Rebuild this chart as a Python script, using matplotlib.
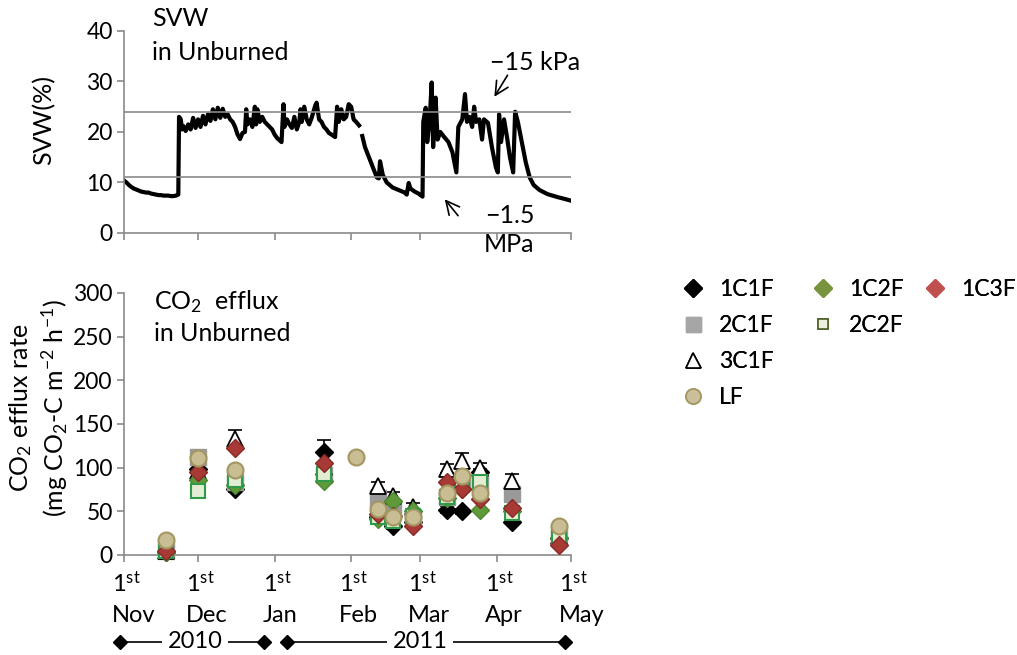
import numpy as np
import matplotlib
matplotlib.use("Agg")
import matplotlib.pyplot as plt
from matplotlib.lines import Line2D
from matplotlib.transforms import ScaledTranslation

plt.rcParams["font.family"] = ["Lato", "DejaVu Sans"]
plt.rcParams["mathtext.fontset"] = "custom"
plt.rcParams["mathtext.rm"] = "Lato"
plt.rcParams["mathtext.it"] = "Lato:italic"
plt.rcParams["mathtext.bf"] = "Lato:bold"

FS = 18        # panel titles / axis titles
FS_TICK = 16.5
FS_LEG = 16.5
AXIS_GREY = "#8a8a8a"

# month boundaries, days since 1 Nov 2010
month_days = [0, 30, 61, 92, 120, 151, 181]
month_names = ["Nov", "Dec", "Jan", "Feb", "Mar", "Apr", "May"]

# soil volumetric water (%), logger trace (NaN = logger gap)
svw_day = [
    0, 1, 2, 3, 4, 5, 6, 7, 8, 9, 10, 11, 12, 13, 14, 15, 16, 17, 18, 19, 20, 21, 22,
    22.3, 23, 23.5, 24, 25, 26, 27, 28, 29, 30, 31, 32, 33, 34, 35, 36, 37, 38, 39,
    40, 41, 42, 43, 44, 45, 46, 47, 48, 49, 49.5, 50, 51, 52, 53, 53.5, 54, 55, 56,
    57, 58, 59, 60, 61, 62, 63.8, 64.6, 65, 66, 67, 68, 69, 70, 71, 71.5, 72, 73,
    74, 75, 76, 77.5, 78, 79, 80, 81, 82, 83, 84, 85.5, 86.3, 87, 88, 89, 90, 91,
    92, 93, 94, 95.2, 95.8,
    96.5, 97.6, 99.2, 100.8, 102.4, 103.2, 103.7, 104.8, 106.4, 108.8, 111.3, 113.7,
    114.5, 115.3, 116, 117.7, 119.3, 120.9, 121.2, 122.2, 122.8, 123.8, 124.6, 125.2,
    126.2, 127, 128.1, 129.7, 131.4, 133, 134.6, 135.4, 137, 138.1, 138.9, 139.9,
    141, 141.8, 142.6, 143.9, 145, 145.8, 147.4, 149, 150.6, 151.4, 151.9, 152.7,
    153.9, 155.1, 156.3, 157.6, 158.4, 159.5, 161.1, 162.7, 164.3, 165.9, 168.3,
    171.5, 175.6, 178.8, 181,
]
svw_val = [
    10.4, 10.0, 9.5, 9.1, 8.8, 8.6, 8.4, 8.2, 8.1, 8.0, 8.0, 7.8, 7.7, 7.6, 7.5, 7.5,
    7.4, 7.4, 7.4, 7.3, 7.3, 7.4, 7.6,
    23.0, 22.5, 20.5, 21.2, 20.2, 21.5, 20.5, 22.8, 20.8, 22.5, 21.0, 23.2, 21.5, 23.5,
    22.2, 24.5, 22.5, 24.8, 22.8, 24.6, 23.0, 23.5, 22.5, 22.0, 21.0, 19.5, 18.6, 19.8,
    20.0, 24.5, 21.5, 22.5, 21.0, 25.0, 21.5, 24.5, 22.0, 23.0, 22.0, 21.5, 21.0, 20.5,
    19.5, 18.8, 18.0, 25.5, 21.0, 22.5, 21.5, 20.8, 23.0, 20.5, 22.0, 24.5, 22.0, 25.0,
    22.5, 21.5, 22.8, 25.3, 25.8, 22.5, 22.0, 21.0, 20.5, 19.8, 19.5, 19.0, 25.0, 22.0,
    24.5, 22.5, 23.0, 25.5, 25.0, 22.5, 22.0, 21.3, np.nan,
    19.2, 17.0, 15.0, 13.0, 11.0, 10.8, 14.2, 11.5, 10.0, 9.0, 8.5, 8.0, 7.6, 9.9, 8.8,
    8.2, 7.8, 7.2, 22.0, 24.8, 18.0, 22.5, 29.8, 17.0, 26.8, 18.5, 20.0, 19.0, 18.0,
    16.0, 12.0, 21.0, 22.5, 27.5, 22.0, 23.0, 21.0, 25.0, 22.0, 22.5, 18.5, 22.5, 21.8,
    17.0, 13.0, 12.0, 23.5, 18.0, 22.5, 19.0, 15.0, 12.0, 24.0, 22.0, 18.0, 14.0, 11.0,
    9.5, 8.5, 7.7, 7.1, 6.7, 6.4,
]
svw_fc = 24.0   # -15 kPa
svw_wp = 11.1   # -1.5 MPa

# CO2 efflux (mg CO2-C m-2 h-1) on the chamber sampling days
samp_day = [17, 30, 45, 81, 103, 109, 117, 131, 137, 144, 157, 176]
c1c1f = [3, 98, 76, 118, 44, 33, 38, 52, 50, 95, 38, 20]
c2c1f = [5, 112, 83, 92, 65, 53, 41, 66, 84, 82, 70, 24]
c3c1f = [4, 96, 133, 101, 79, 67, 55, 99, 108, 100, 85, 22]
c3c1f_err = [2, 4, 10, 5, 5, 5, 4, 5, 9, 5, 8, 3]
c1c1f_err = [2, 5, 4, 14, 4, 3, 3, 4, 3, 4, 3, 2]
c1c2f = [3, 86, 80, 85, 41, 62, 50, 65, 75, 52, 50, 20]
c2c2f = [4, 73, 86, 93, 44, 39, 45, 66, 80, 84, 48, 20]
c1c3f = [4, 95, 123, 105, 47, 45, 33, 83, 76, 64, 54, 12]
lf_day = [17, 30, 45, 94, 103, 109, 117, 131, 137, 144, 176]
lf = [17, 111, 97, 112, 53, 43, 44, 71, 91, 71, 33]

fig = plt.figure(figsize=(10.17, 6.55), dpi=100)
ax1 = fig.add_axes([0.1219, 0.6443, 0.4395, 0.3084])
ax2 = fig.add_axes([0.1219, 0.1527, 0.4395, 0.4000])


def style_axis(ax):
    for s in ("top", "right"):
        ax.spines[s].set_visible(False)
    for s in ("left", "bottom"):
        ax.spines[s].set_color(AXIS_GREY)
        ax.spines[s].set_linewidth(1.2)
    ax.tick_params(axis="both", colors=AXIS_GREY, length=5, width=1.2, pad=3,
                   labelcolor="black", labelsize=FS_TICK)
    ax.set_xlim(0, 181)
    ax.set_xticks(month_days)


# top: soil water
style_axis(ax1)
ax1.plot(svw_day, svw_val, color="black", lw=3.0)
ax1.axhline(svw_fc, color=AXIS_GREY, lw=1.2)
ax1.axhline(svw_wp, color=AXIS_GREY, lw=1.2)
ax1.set_ylim(0, 40)
ax1.set_yticks([0, 10, 20, 30, 40])
ax1.set_xticklabels([])
ax1.set_ylabel("SVW(%)", fontsize=FS, va="center")
ax1.yaxis.set_label_coords(-0.179, 0.56)
ax1.text(0.063, 1.064, "SVW", transform=ax1.transAxes, fontsize=FS,
         va="center", ha="left", clip_on=False)
ax1.text(0.063, 0.891, "in Unburned", transform=ax1.transAxes, fontsize=FS,
         va="center", ha="left")
ax1.text(0.819, 0.842, "\u221215 kPa", transform=ax1.transAxes, fontsize=FS,
         va="center", ha="left", clip_on=False)
ax1.text(0.864, 0.089, "\u22121.5", transform=ax1.transAxes, fontsize=FS,
         va="center", ha="center")
ax1.text(0.861, -0.059, "MPa", transform=ax1.transAxes, fontsize=FS,
         va="center", ha="center", clip_on=False)
arrow = dict(arrowstyle="->", color="black", lw=1.2, mutation_scale=24)
ax1.annotate("", xy=(149.4, 26.5), xytext=(155.9, 31.7), arrowprops=arrow)
ax1.annotate("", xy=(129.2, 7.1), xytext=(136.0, 3.0), arrowprops=arrow)

# bottom: CO2 efflux
style_axis(ax2)
ax2.set_ylim(0, 300)
ax2.set_yticks(range(0, 301, 50))
ax2.errorbar(samp_day, c1c1f, yerr=c1c1f_err, fmt="none", ecolor="black",
             elinewidth=1.2, capsize=5, capthick=1.2, zorder=2)
ax2.errorbar(samp_day, c3c1f, yerr=c3c1f_err, fmt="none", ecolor="black",
             elinewidth=1.2, capsize=5, capthick=1.2, zorder=2)

series = [
    ("1C1F", samp_day, c1c1f, dict(marker="D", ms=9.3, mfc="black", mec="black")),
    ("2C1F", samp_day, c2c1f, dict(marker="s", ms=11.5, mfc="#999999", mec="#999999")),
    ("3C1F", samp_day, c3c1f, dict(marker="^", ms=12, mfc="white", mec="black", mew=1.3)),
    ("1C2F", samp_day, c1c2f, dict(marker="D", ms=9.3, mfc="#5f9a3a", mec="#4f8a30")),
    ("2C2F", samp_day, c2c2f, dict(marker="s", ms=9.5, mfc="#e3edd3", mec="#2f9a4a", mew=1.5)),
    ("1C3F", samp_day, c1c3f, dict(marker="D", ms=9.3, mfc="#a83a36", mec="#8a2a26")),
    ("LF", lf_day, lf, dict(marker="o", ms=11.5, mfc="#c9bd94", mec="#a39660", mew=1.5)),
]
for i, (name, x, y, kw) in enumerate(series):
    ax2.plot(x, y, ls="none", zorder=3 + i, clip_on=False, **kw)

ax2.set_xticklabels(["1$^{\\mathrm{st}}$\n" + m for m in month_names],
                    linespacing=1.5, fontsize=17)
for lab in ax2.get_xticklabels():
    lab.set_horizontalalignment("left")
    lab.set_transform(lab.get_transform()
                      + ScaledTranslation(-0.12, -0.05, fig.dpi_scale_trans))

ax2.set_ylabel("CO$_2$ efflux rate\n(mg CO$_2$-C m$^{-2}$ h$^{-1}$)",
               fontsize=FS, linespacing=1.25, va="center")
ax2.yaxis.set_label_coords(-0.191, 0.561)
ax2.text(0.067, 0.966, "CO$_2$  efflux", transform=ax2.transAxes, fontsize=FS,
         va="center", ha="left")
ax2.text(0.067, 0.847, "in Unburned", transform=ax2.transAxes, fontsize=FS,
         va="center", ha="left")

# year brackets under the month labels
yb = -0.332
xt = ax2.get_xaxis_transform()
for x0, x1, xm, year in ((-1.6, 56.7, 28.7, "2010"), (66.0, 178.6, 119.9, "2011")):
    ax2.add_line(Line2D([x0, x1], [yb, yb], transform=xt, color="black", lw=1.2,
                        marker="D", ms=7, markevery=[0, 1], clip_on=False))
    ax2.text(xm, yb, year, transform=xt, fontsize=17, ha="center", va="center",
             bbox=dict(facecolor="white", edgecolor="none", pad=4), clip_on=False)

# legend, one block per column
leg_kw = dict(loc="upper left", frameon=False, fontsize=FS_LEG, handlelength=1.0,
              handletextpad=0.63, labelspacing=0.66, borderpad=0.0,
              borderaxespad=0.0)
leg_style = {
    "1C1F": dict(marker="D", ms=9.2, mfc="black", mec="black"),
    "2C1F": dict(marker="s", ms=10.8, mfc="#a6a6a6", mec="#a6a6a6"),
    "3C1F": dict(marker="^", ms=10.8, mfc="white", mec="black", mew=1.2),
    "LF": dict(marker="o", ms=10.8, mfc="#c9bf98", mec="#a39660", mew=1.2),
    "1C2F": dict(marker="D", ms=9.2, mfc="#77933c", mec="#77933c"),
    "2C2F": dict(marker="s", ms=7.5, mfc="#ebf1de", mec="#4f6228", mew=1.2),
    "1C3F": dict(marker="D", ms=9.2, mfc="#c0504d", mec="#c0504d"),
}
columns = [(0.6701, ["1C1F", "2C1F", "3C1F", "LF"]),
           (0.7979, ["1C2F", "2C2F"]),
           (0.9081, ["1C3F"])]
for xa, names in columns:
    hs = [Line2D([], [], ls="none", **leg_style[n]) for n in names]
    leg = fig.legend(hs, names, bbox_to_anchor=(xa, 0.574), **leg_kw)
    fig.add_artist(leg)

fig.savefig("out.png", dpi=100)
